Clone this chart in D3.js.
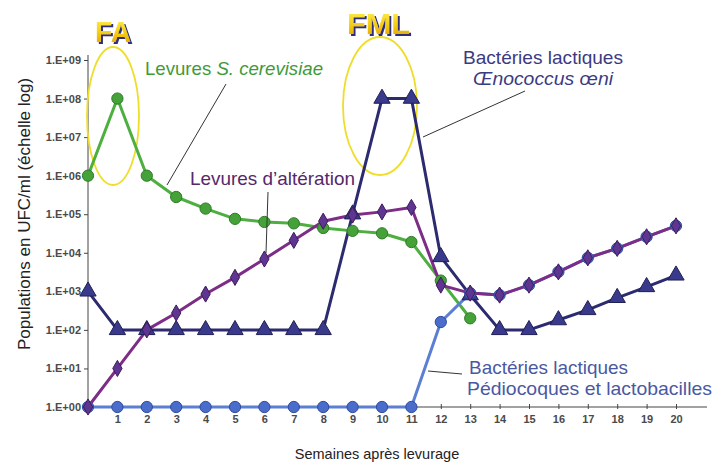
<!DOCTYPE html>
<html>
<head>
<meta charset="utf-8">
<script src="https://cdn.jsdelivr.net/npm/d3@7"></script>
<style>
  html, body { margin: 0; padding: 0; background: #ffffff; }
  svg { display: block; font-family: "Liberation Sans", Arial, sans-serif; }
</style>
</head>
<body>
<svg id="chart" width="727" height="466"></svg>
<script>
// Weeks after yeast inoculation
const weeks = d3.range(0, 21);
const tickWeeks = d3.range(1, 21);
const yTicks = [1, 1e1, 1e2, 1e3, 1e4, 1e5, 1e6, 1e7, 1e8, 1e9];

// Populations (UFC/ml)
const saccharomyces = [1e6, 1e8, 1e6, 2.8e5, 1.4e5, 7.6e4, 6.3e4, 5.8e4, 4.4e4, 3.7e4, 3.2e4, 1.9e4, 1.9e3, 2.0e2];
const spoilageYeasts = [1, 10, 100, 2.75e2, 8.5e2, 2.3e3, 6.9e3, 2.1e4, 6.6e4, 9.5e4, 1.15e5, 1.5e5, 1.45e3, 9e2, 8e2, 1.45e3, 3.2e3, 7.4e3, 1.3e4, 2.6e4, 5e4];
const oenococcus = [1e3, 1e2, 1e2, 1e2, 1e2, 1e2, 1e2, 1e2, 1e2, 1e5, 1e8, 1e8, 7.8e3, 8e2, 1e2, 1e2, 1.8e2, 3.3e2, 6.8e2, 1.3e3, 2.6e3];
const pediococcus = [1, 1, 1, 1, 1, 1, 1, 1, 1, 1, 1, 1, 1.6e2, 9e2, 8e2, 1.45e3, 3.2e3, 7.4e3, 1.3e4, 2.6e4, 5e4];

const svg = d3.select("#chart");

const x = d3.scaleLinear().domain([0, 21]).range([88, 705.4]);
const y = d3.scaleLog().domain([1, 1e9]).range([407, 60]);

const fmtExp = v => "1.E+" + String(Math.round(Math.log10(v))).padStart(2, "0");

// Y axis
const yAxis = svg.append("g").attr("transform", "translate(88,0)")
  .call(d3.axisLeft(y).tickValues(yTicks).tickFormat(fmtExp).tickSize(4).tickPadding(3));
yAxis.select(".domain").attr("stroke", "#444").attr("d", "M0,55V407");
yAxis.selectAll(".tick line").attr("stroke", "#444");
yAxis.selectAll(".tick text")
  .attr("font-size", 11).attr("font-weight", "bold").attr("fill", "#4a4a4a")
  .attr("font-family", "Liberation Sans, Arial, sans-serif");

// X axis
const xAxis = svg.append("g").attr("transform", "translate(0,407)")
  .call(d3.axisBottom(x).tickValues(tickWeeks).tickFormat(d3.format("d")).tickSize(3).tickPadding(5));
xAxis.select(".domain").attr("stroke", "#444").attr("d", "M88,0H707");
xAxis.selectAll(".tick line").attr("stroke", "#444").attr("y1", -3).attr("y2", 2);
xAxis.selectAll(".tick text")
  .attr("font-size", 11).attr("font-weight", "bold").attr("fill", "#4a4a4a")
  .attr("font-family", "Liberation Sans, Arial, sans-serif");

// Axis titles
svg.append("text")
  .attr("transform", "translate(30,214) rotate(-90)")
  .attr("text-anchor", "middle")
  .attr("font-size", 17).attr("fill", "#222")
  .text("Populations en UFC/ml (échelle log)");
svg.append("text")
  .attr("x", 377).attr("y", 459)
  .attr("text-anchor", "middle")
  .attr("font-size", 14.5).attr("fill", "#222")
  .text("Semaines après levurage");

// Fermentation phase ellipses
svg.append("ellipse").attr("cx", 113).attr("cy", 116).attr("rx", 26).attr("ry", 69)
  .attr("fill", "none").attr("stroke", "#eede2a").attr("stroke-width", 1.8);
svg.append("ellipse").attr("cx", 380).attr("cy", 106).attr("rx", 37).attr("ry", 69)
  .attr("fill", "none").attr("stroke", "#eede2a").attr("stroke-width", 1.8);

// Series definitions
const series = [
  { name: "oenococcus", values: oenococcus, line: "#2c2b70", fill: "#3a3a8c", stroke: "#1f1f55", symbol: d3.symbolTriangle, size: 115 },
  { name: "saccharomyces", values: saccharomyces, line: "#4caf3f", fill: "#45a238", stroke: "#2f7a28", symbol: d3.symbolCircle, size: 100 },
  { name: "pediococcus", values: pediococcus, line: "#5b7fd2", fill: "#4a6dcc", stroke: "#304c9c", symbol: d3.symbolCircle, size: 100 },
  { name: "spoilage", values: spoilageYeasts, line: "#7d2d88", fill: "#5e3590", stroke: "#3f1a5a", symbol: d3.symbolDiamond, size: 75 }
];

const line = d3.line().x((d, i) => x(i)).y(d => y(d));

series.forEach(s => {
  svg.append("path")
    .attr("d", line(s.values))
    .attr("fill", "none")
    .attr("stroke", s.line)
    .attr("stroke-width", 3)
    .attr("stroke-linejoin", "round");
});

series.forEach(s => {
  svg.append("g").selectAll("path")
    .data(s.values)
    .join("path")
    .attr("transform", (d, i) => `translate(${x(i)},${y(d)})`)
    .attr("d", d3.symbol().type(s.symbol).size(s.size))
    .attr("fill", s.fill)
    .attr("stroke", s.stroke)
    .attr("stroke-width", 1);
});

// Callout leader lines
const leaders = [
  [226, 84, 167, 185],
  [268, 192, 266, 253],
  [525, 91, 423, 137],
  [462, 374, 428, 371]
];
svg.append("g").selectAll("line").data(leaders).join("line")
  .attr("x1", d => d[0]).attr("y1", d => d[1])
  .attr("x2", d => d[2]).attr("y2", d => d[3])
  .attr("stroke", "#333").attr("stroke-width", 1);

// Series labels
const label = (xx, yy, color, parts, len) => {
  const t = svg.append("text").attr("x", xx).attr("y", yy)
    .attr("font-size", 19).attr("fill", color);
  if (len) t.attr("textLength", len).attr("lengthAdjust", "spacingAndGlyphs");
  parts.forEach(p => t.append("tspan").attr("font-style", p.italic ? "italic" : null).text(p.text));
  return t;
};
label(145, 75, "#3d9b38", [{ text: "Levures " }, { text: "S. cerevisiae", italic: true }], 178);
label(190, 185, "#55286a", [{ text: "Levures d’altération" }], 165);
label(463, 64, "#3b3b82", [{ text: "Bactéries lactiques" }], 160);
label(473, 85, "#3b3b82", [{ text: "Œnococcus œni", italic: true }], 140);
label(469, 374, "#4a58a3", [{ text: "Bactéries lactiques" }], 159);
label(467, 395, "#4a58a3", [{ text: "Pédiocoques et lactobacilles" }], 245);

// Phase titles: gold gradient with a navy drop shadow
const defs = svg.append("defs");
const grad = defs.append("linearGradient").attr("id", "gold").attr("x1", 0).attr("y1", 0).attr("x2", 0).attr("y2", 1);
grad.append("stop").attr("offset", "0%").attr("stop-color", "#fff25a");
grad.append("stop").attr("offset", "55%").attr("stop-color", "#f3cc10");
grad.append("stop").attr("offset", "100%").attr("stop-color", "#e29a00");
const shadow = defs.append("filter").attr("id", "navyShadow")
  .attr("x", "-20%").attr("y", "-20%").attr("width", "140%").attr("height", "140%");
shadow.append("feDropShadow").attr("dx", 2).attr("dy", 2).attr("stdDeviation", 0.4)
  .attr("flood-color", "#2d2d7a").attr("flood-opacity", 1);

const phaseTitle = (xx, yy, txt, len) => {
  svg.append("text").attr("x", xx).attr("y", yy)
    .attr("font-size", 29).attr("font-weight", "bold").attr("fill", "url(#gold)")
    .attr("filter", "url(#navyShadow)")
    .attr("textLength", len).attr("lengthAdjust", "spacingAndGlyphs").text(txt);
};
phaseTitle(95, 42, "FA", 36);
phaseTitle(347, 34, "FML", 63);
</script>
</body>
</html>
